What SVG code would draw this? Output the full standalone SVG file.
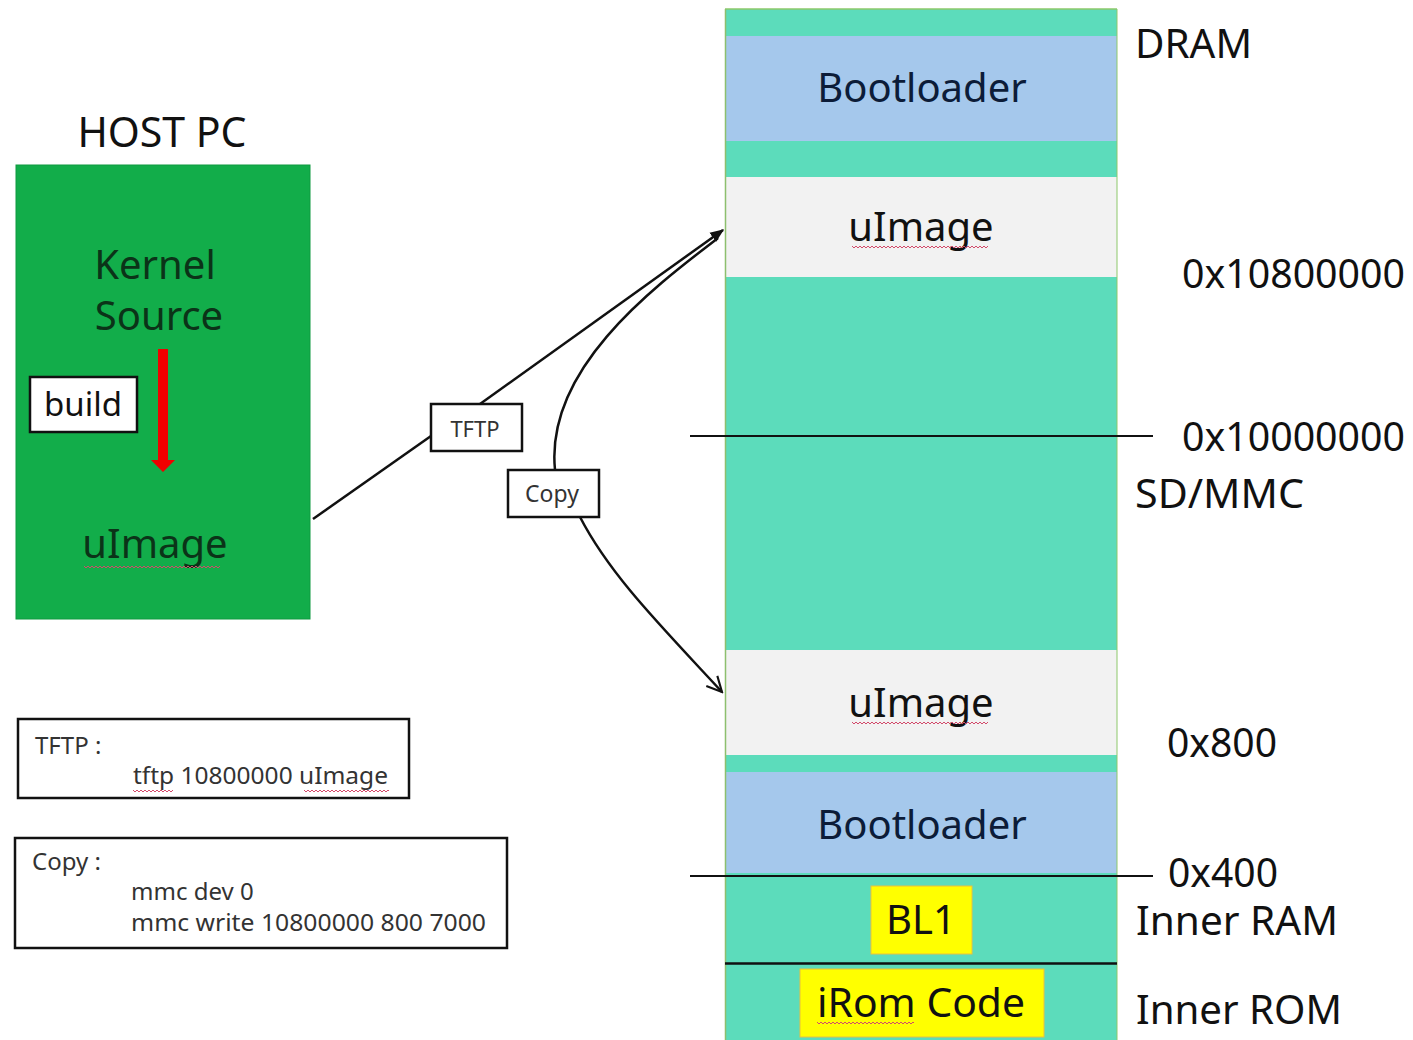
<svg xmlns="http://www.w3.org/2000/svg" width="1413" height="1040" viewBox="0 0 1413 1040">
  <style>
    text { font-family: "Noto Sans", "Open Sans", "DejaVu Sans", sans-serif; fill: #111; }
    .big { font-size: 40px; }
    .side { font-size: 40px; }
    .tag { font-size: 22px; fill: #333; }
    .note { font-size: 24px; fill: #333; }
    .teal { fill: #5cdcbb; }
    .blue { fill: #a5c8ec; }
    .slot { fill: #f2f2f2; }
    .yel { fill: #ffff00; stroke: #e8c040; stroke-width: 1; }
    .box { fill: #fff; stroke: #111; stroke-width: 2.5; }
    .wave { fill: none; stroke: #d24a6a; stroke-width: 1; }
    .conn { fill: none; stroke: #111; stroke-width: 2.5; }
  </style>
  <defs>
    <marker id="solid" viewBox="0 0 10 10" refX="9" refY="5" markerWidth="14" markerHeight="14" orient="auto" markerUnits="userSpaceOnUse">
      <path d="M0,1 L10,5 L0,9 z" fill="#111"/>
    </marker>
    <marker id="open" viewBox="0 0 12 12" refX="11" refY="6" markerWidth="18" markerHeight="18" orient="auto" markerUnits="userSpaceOnUse">
      <path d="M1,1 L11,6 L1,11" fill="none" stroke="#111" stroke-width="1.4"/>
    </marker>
    <path id="squig" d="M0,0 l2,2 l2,-2 l2,2 l2,-2 l2,2 l2,-2 l2,2 l2,-2 l2,2 l2,-2 l2,2 l2,-2 l2,2 l2,-2 l2,2 l2,-2 l2,2 l2,-2 l2,2 l2,-2 l2,2 l2,-2 l2,2 l2,-2 l2,2 l2,-2 l2,2 l2,-2 l2,2 l2,-2 l2,2 l2,-2 l2,2 l2,-2 l2,2 l2,-2 l2,2 l2,-2 l2,2 l2,-2 l2,2 l2,-2 l2,2 l2,-2 l2,2 l2,-2 l2,2 l2,-2 l2,2 l2,-2 l2,2 l2,-2 l2,2 l2,-2 l2,2 l2,-2 l2,2 l2,-2 l2,2 l2,-2 l2,2 l2,-2 l2,2 l2,-2 l2,2 l2,-2 l2,2 l2,-2"/>
  </defs>

  <rect width="1413" height="1040" fill="#fff"/>

  <!-- Host PC -->
  <g id="host-pc">
    <text x="162" y="147" text-anchor="middle" style="font-size:41px">HOST PC</text>
    <rect x="16" y="165" width="294" height="454" fill="#12ad4a" stroke="#0e9a40" stroke-width="1"/>
    <text x="155" y="279" class="big" text-anchor="middle" style="fill:#0b3318">Kernel</text>
    <text x="159" y="330" class="big" text-anchor="middle" style="fill:#0b3318">Source</text>
    <text x="155" y="558" class="big" text-anchor="middle" style="fill:#0b3318">uImage</text>
    <svg x="84" y="565" width="144" height="4" overflow="hidden"><use href="#squig" y="1" class="wave"/></svg>
  </g>

  <g id="build">
    <rect x="30" y="377" width="107" height="55" class="box" stroke-width="2"/>
    <text x="83" y="416" text-anchor="middle" style="font-size:33px">build</text>
    <!-- build arrow -->
    <path d="M158,349 h10 v111 h7 l-12,12 l-12,-12 h7 z" fill="#f00000"/>
  </g>

  <!-- Memory map column -->
  <g id="memory-map">
    <rect x="725" y="9" width="392" height="1031" class="teal"/>
    <rect x="725" y="36" width="392" height="105" class="blue"/>
    <rect x="725" y="177" width="392" height="100" class="slot"/>
    <rect x="725" y="650" width="392" height="105" class="slot"/>
    <rect x="725" y="772" width="392" height="101" class="blue"/>
    <line x1="725" y1="9" x2="1117" y2="9" stroke="#8dc86a" stroke-width="1.5"/>
    <line x1="725.5" y1="9" x2="725.5" y2="1040" stroke="#8dbf6e" stroke-width="1.5"/>
    <line x1="1117" y1="9" x2="1117" y2="1040" stroke="#8dc86a" stroke-width="1"/>
    <line x1="725" y1="963.5" x2="1117" y2="963.5" stroke="#111" stroke-width="2.5"/>
  </g>

  <g id="dram-bootloader">
    <text x="922" y="102" text-anchor="middle" class="big" style="fill:#0c1c38">Bootloader</text>
  </g>
  <g id="dram-uimage">
    <text x="921" y="241" text-anchor="middle" class="big">uImage</text>
    <svg x="852" y="245" width="143" height="4" overflow="hidden"><use href="#squig" y="1" class="wave"/></svg>
  </g>
  <g id="mmc-uimage">
    <text x="921" y="717" text-anchor="middle" class="big">uImage</text>
    <svg x="852" y="721" width="143" height="4" overflow="hidden"><use href="#squig" y="1" class="wave"/></svg>
  </g>
  <g id="mmc-bootloader">
    <text x="922" y="839" text-anchor="middle" class="big" style="fill:#0c1c38">Bootloader</text>
  </g>
  <g id="bl1">
    <rect x="871" y="886" width="101" height="68" class="yel"/>
    <text x="921" y="934" text-anchor="middle" class="big">BL1</text>
  </g>
  <g id="irom-code">
    <rect x="800" y="969" width="244" height="68" class="yel"/>
    <text x="921" y="1017" text-anchor="middle" class="big" textLength="208" lengthAdjust="spacingAndGlyphs">iRom Code</text>
    <svg x="817" y="1021" width="97" height="4" overflow="hidden"><use href="#squig" y="1" class="wave"/></svg>
  </g>

  <!-- Boundary marks and address labels -->
  <g id="boundaries">
    <line x1="690" y1="436" x2="1153" y2="436" stroke="#111" stroke-width="2"/>
    <line x1="690" y1="876" x2="1153" y2="876" stroke="#111" stroke-width="2"/>
  </g>
  <g id="labels">
    <text x="1135" y="58" class="side" textLength="117" lengthAdjust="spacingAndGlyphs">DRAM</text>
    <text x="1182" y="288" class="side" textLength="223" lengthAdjust="spacingAndGlyphs">0x10800000</text>
    <text x="1182" y="451" class="side" textLength="223" lengthAdjust="spacingAndGlyphs">0x10000000</text>
    <text x="1135" y="508" class="side" textLength="169" lengthAdjust="spacingAndGlyphs">SD/MMC</text>
    <text x="1167" y="757" class="side" textLength="110" lengthAdjust="spacingAndGlyphs">0x800</text>
    <text x="1168" y="887" class="side" textLength="110" lengthAdjust="spacingAndGlyphs">0x400</text>
    <text x="1136" y="935" class="side" textLength="202" lengthAdjust="spacingAndGlyphs">Inner RAM</text>
    <text x="1136" y="1024" class="side" textLength="206" lengthAdjust="spacingAndGlyphs">Inner ROM</text>
  </g>

  <!-- Transfer connectors -->
  <g id="connectors">
    <path d="M313,519 L431,436" class="conn"/>
    <path d="M480,404 L723,230" class="conn" marker-end="url(#solid)"/>
    <path d="M718,238 C650,290 545,370 555,470" class="conn"/>
    <path d="M580,517 C610,575 660,625 722,692" class="conn" marker-end="url(#open)"/>
  </g>

  <g id="tftp-tag">
    <rect x="431" y="404" width="91" height="47" class="box" stroke-width="2"/>
    <text x="475" y="437" text-anchor="middle" class="tag">TFTP</text>
  </g>
  <g id="copy-tag">
    <rect x="508" y="470" width="91" height="47" class="box" stroke-width="2"/>
    <text x="552" y="502" text-anchor="middle" class="tag" style="font-size:23px">Copy</text>
  </g>

  <!-- Command notes -->
  <g id="note-tftp">
    <rect x="18" y="719" width="391" height="79" class="box"/>
    <text x="35" y="754" class="note">TFTP :</text>
    <text x="133" y="784" class="note" textLength="255" lengthAdjust="spacingAndGlyphs">tftp 10800000 uImage</text>
    <svg x="133" y="789" width="40" height="4" overflow="hidden"><use href="#squig" y="1" class="wave"/></svg>
    <svg x="304" y="789" width="85" height="4" overflow="hidden"><use href="#squig" y="1" class="wave"/></svg>
  </g>
  <g id="note-copy">
    <rect x="15" y="838" width="492" height="110" class="box"/>
    <text x="32" y="870" class="note">Copy :</text>
    <text x="131" y="900" class="note">mmc dev 0</text>
    <text x="131" y="931" class="note" textLength="355" lengthAdjust="spacingAndGlyphs">mmc write 10800000 800 7000</text>
  </g>
</svg>
